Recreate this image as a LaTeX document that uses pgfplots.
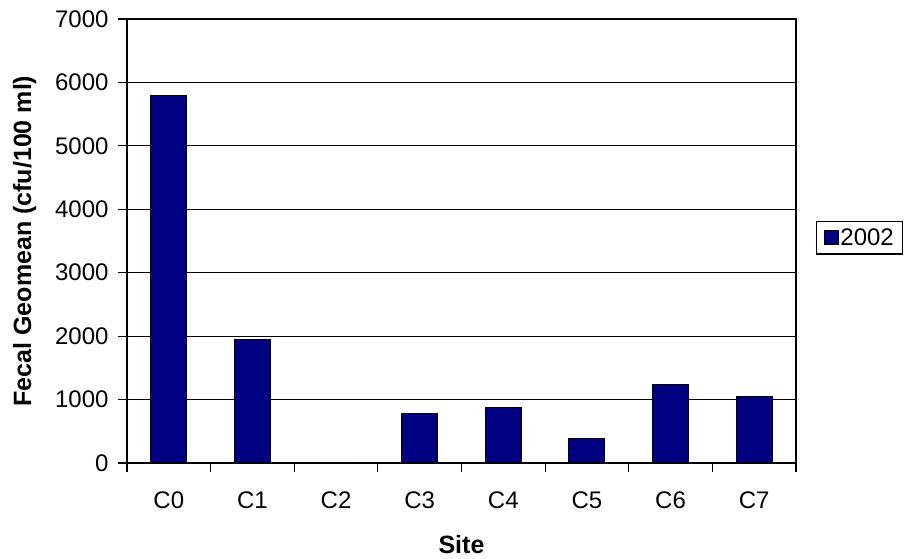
\documentclass[border=0pt]{standalone}
\usepackage{pgfplots}
\pgfplotsset{compat=1.18}
\usepackage{fontspec}
\setmainfont{Liberation Sans}
\definecolor{barblue}{RGB}{0,0,128}
\begin{document}
\begin{tikzpicture}
\begin{axis}[
    scale only axis,
    width=669pt, height=444pt,
    ybar, bar width=36pt,
    xmin=-0.5, xmax=7.5,
    ymin=0, ymax=7000,
    ytick={0,1000,...,7000},
    xtick={0,...,7},
    xticklabels={C0,C1,C2,C3,C4,C5,C6,C7},
    minor xtick={-0.5,0.5,...,7.5},
    major x tick style={draw=none},
    tick align=outside,
    major tick length=9pt, minor tick length=9pt,
    tick style={black, line width=1.2pt},
    ytick pos=left, xtick pos=bottom,
    ymajorgrids=true,
    grid style={black, line width=1.2pt},
    axis line style={black, line width=1.2pt},
    /pgf/number format/assume math mode=true,
    /pgf/number format/1000 sep={},
    ticklabel style={font=\fontsize{24}{28}\selectfont},
    xticklabel style={yshift=-16pt},
    yticklabel style={xshift=-6pt},
    xlabel={\textbf{Site}},
    ylabel={\textbf{Fecal Geomean (cfu/100 ml)}},
    label style={font=\fontsize{25}{29}\selectfont},
    xlabel style={yshift=-20pt},
    ylabel style={yshift=12pt},
    legend style={at={(1.03,0.507)}, anchor=west, draw=black, line width=1.2pt,
        font=\fontsize{24}{28}\selectfont, inner xsep=7pt, inner ysep=5pt},
    legend image code/.code={\draw[#1, line width=0.8pt] (0pt,-7pt) rectangle (14pt,7pt);},
]
\addplot[fill=barblue, draw=black, line width=1pt] coordinates {
    (0,5800) (1,1950) (2,0) (3,780) (4,870) (5,380) (6,1240) (7,1055)
};
\addlegendentry{2002}
\end{axis}
\pgfresetboundingbox
\path[use as bounding box] (-127pt,-96pt) rectangle (779pt,463pt);
\end{tikzpicture}
\end{document}
